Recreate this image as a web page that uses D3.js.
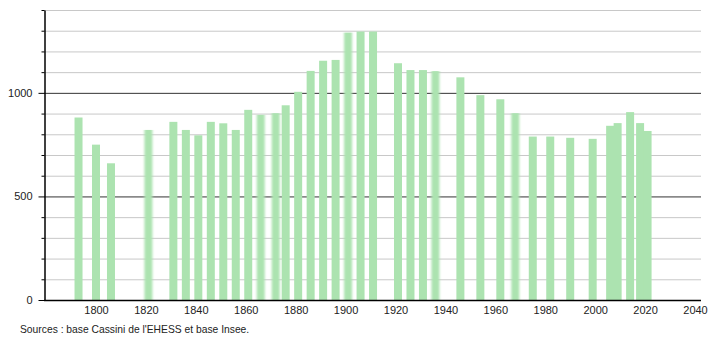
<!DOCTYPE html>
<html>
<head>
<meta charset="utf-8">
<script src="https://cdn.jsdelivr.net/npm/d3@7"></script>
<style>
  body { margin: 0; background: #fff; }
  svg { font-family: "Liberation Sans", Arial, sans-serif; }
</style>
</head>
<body>
<div id="chart"></div>
<script>
// census years and population
const years = [1793, 1800, 1806, 1821, 1831, 1836, 1841, 1846, 1851, 1856,
    1861, 1866, 1872, 1876, 1881, 1886, 1891, 1896, 1901, 1906,
    1911, 1921, 1926, 1931, 1936, 1946, 1954, 1962, 1968, 1975,
    1982, 1990, 1999, 2006, 2009, 2014, 2018, 2021]
const population = [881, 750, 660, 821, 860, 821, 795, 860, 853, 821,
    918, 894, 902, 940, 1005, 1106, 1155, 1159, 1291, 1296,
    1296, 1143, 1110, 1110, 1105, 1075, 989, 969, 902, 789,
    789, 783, 778, 841, 854, 907, 854, 816]
// bars that look smeared in the original image
const softYears = [1821, 1866, 1872, 1901, 1936, 1968]
const xTicks = [1800, 1820, 1840, 1860, 1880, 1900, 1920, 1940, 1960, 1980, 2000, 2020, 2040]
const yTicks = d3.range(0, 1401, 100)
const yLabels = [0, 500, 1000]
const source = "Sources : base Cassini de l'EHESS et base Insee."

const width = 710, height = 340
const marginLeft = 44, plotRight = 701, plotTop = 10, plotBottom = 300

const data = years.map((y, i) => ({year: y, value: population[i]}))

const svg = d3.select("#chart").append("svg")
    .attr("width", width)
    .attr("height", height)

const defs = svg.append("defs")
defs.append("filter").attr("id", "soft")
    .attr("x", "-50%").attr("width", "200%")
    .append("feGaussianBlur").attr("stdDeviation", "1.3 0")

const x = d3.scaleLinear().domain([1800, 2040]).range([96, 695])
const y = d3.scaleLinear().domain([0, 1400]).range([plotBottom, plotTop])

// grid lines
svg.append("g")
    .selectAll("line")
    .data(yTicks.filter(d => d > 0))
    .enter().append("line")
    .attr("x1", marginLeft).attr("x2", plotRight)
    .attr("y1", d => y(d) + 0.5).attr("y2", d => y(d) + 0.5)
    .attr("stroke", d => yLabels.includes(d) ? "#333" : "#c8c8c8")
    .attr("stroke-width", 1)

// bars
svg.append("g")
    .selectAll("rect")
    .data(data)
    .enter().append("rect")
    .attr("x", d => x(d.year) - 4)
    .attr("width", 8)
    .attr("y", d => y(d.value))
    .attr("height", d => y(0) - y(d.value))
    .attr("fill", "#ace3b0")
    .attr("filter", d => softYears.includes(d.year) ? "url(#soft)" : null)

// y axis
const yAxis = svg.append("g")
    .attr("transform", `translate(${marginLeft + 0.5},0)`)
    .call(d3.axisLeft(y).tickValues(yTicks).tickSize(0).tickPadding(0).tickFormat(""))
yAxis.select(".domain").attr("stroke", "#000").attr("stroke-width", 1.5)
yAxis.selectAll(".tick line")
    .attr("x2", d => yLabels.includes(d) ? -6 : -3)
    .attr("stroke", "#000")
yAxis.selectAll(".tick text")
    .attr("x", -12)
    .style("font-size", "11px")
    .attr("fill", "#222")
    .text(d => yLabels.includes(d) ? d : "")

// x axis
const xAxis = svg.append("g")
    .attr("transform", `translate(0,${plotBottom + 0.5})`)
    .call(d3.axisBottom(x).tickValues(xTicks).tickSize(0).tickPadding(6).tickFormat(d3.format("d")))
xAxis.select(".domain").attr("d", `M${marginLeft},0H${plotRight}`).attr("stroke", "#000").attr("stroke-width", 1.5)
xAxis.selectAll(".tick text")
    .style("font-size", "11px")
    .attr("fill", "#222")

svg.append("text")
    .attr("x", 20).attr("y", 333)
    .style("font-size", "10.3px")
    .attr("fill", "#222")
    .text(source)
</script>
</body>
</html>
